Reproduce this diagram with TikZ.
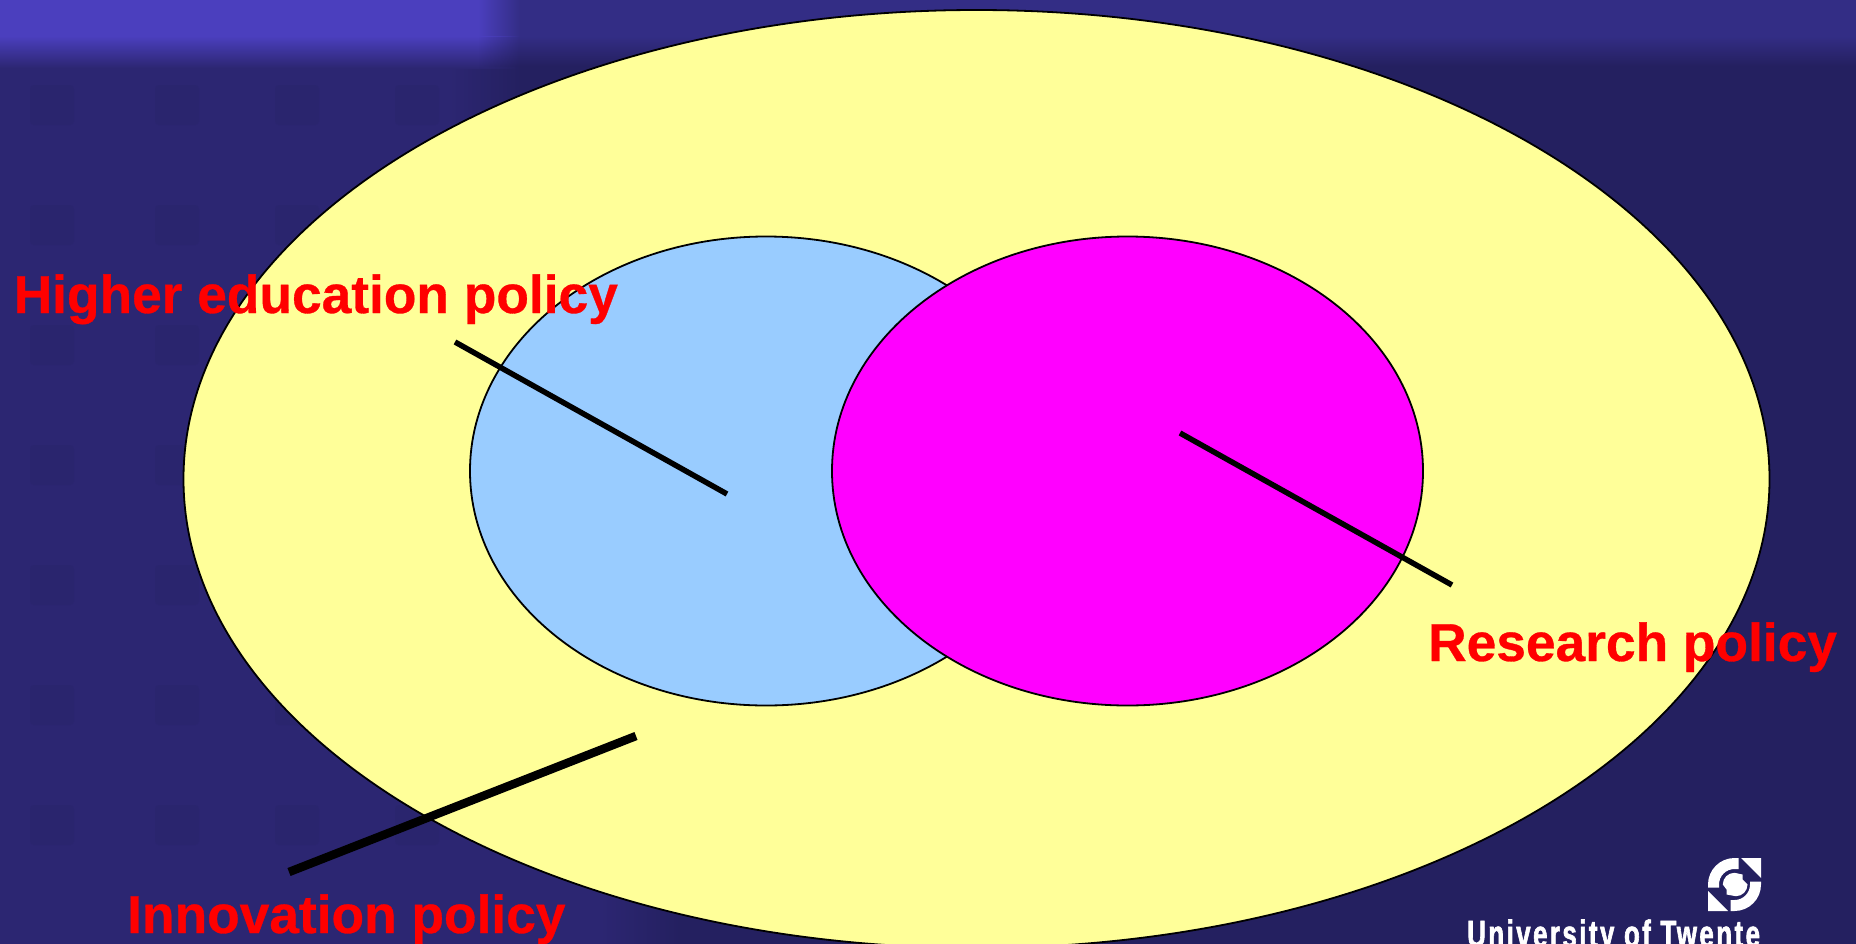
\documentclass[tikz,border=0pt]{standalone}
\usepackage{fontspec}
\usetikzlibrary{shapes.geometric,fadings}
\setmainfont{Liberation Sans}[BoldFeatures={FakeBold=0.6}]
\newfontfamily\logofont[FakeStretch=0.68,LetterSpace=6.5,FakeBold=1.6]{Liberation Sans Bold}
\definecolor{bgleft}{HTML}{2C2672}
\definecolor{bgright}{HTML}{242060}
\definecolor{bandleft}{HTML}{4B3FBE}
\definecolor{bandright}{HTML}{332D85}
\definecolor{bgsquare}{HTML}{2A256E}
\definecolor{outerfill}{HTML}{FFFF99}
\definecolor{bluefill}{HTML}{99CCFF}
\definecolor{magfill}{HTML}{FF00FF}
\tikzset{
  blob/.style={ellipse,draw=black,line width=1.8pt,inner sep=0pt},
  policy/.style={anchor=base west,inner sep=0pt,text=red,font=\fontsize{53.3}{53.3}\selectfont\bfseries},
  pointer/.style={draw=black,line width=5.5pt},
  pointerthick/.style={draw=black,line width=8.5pt},
  logopart/.style={fill=white,draw=none}
}
\begin{document}
\begin{tikzpicture}[x=1pt,y=-1pt]
\useasboundingbox (0,0) rectangle (1856,943);
% background
\fill[bgright] (-5,-5) rectangle (1861,950);
\fill[bgleft] (-5,-5) rectangle (450,400);
\shade[left color=bgleft,right color=bgright,draw=none] (450,-5) rectangle (520,400);
\fill[bgleft] (-5,400) rectangle (600,950);
\shade[left color=bgleft,right color=bgright,draw=none] (600,400) rectangle (680,950);
% faint squares
\foreach \sx in {30,155,275,395}{
  \foreach \sy in {85,205,325,445,565,685,805}{
    \fill[bgsquare,rounded corners=4pt] (\sx,\sy) rectangle +(44,40);
  }
}
% top band
\fill[bandright] (478,-5) rectangle (1861,36);
\shade[top color=bandright,bottom color=bgright,draw=none] (478,36) rectangle (1861,66);
\fill[bandleft] (-5,-5) rectangle (478,36);
\shade[top color=bandleft,bottom color=bgleft,draw=none] (-5,36) rectangle (478,68);
\shade[left color=bandleft,right color=bandright,draw=none] (478,-5) rectangle (520,36);
\shade[top color=bandleft,bottom color=bgleft,draw=none,path fading=east] (478,36) rectangle (520,68);
% ellipses
\node[blob,fill=outerfill,minimum width=1586pt,minimum height=938pt] (outer) at (976.5,479) {};
\node[blob,fill=bluefill,minimum width=592pt,minimum height=469pt] (edu) at (766,471) {};
\node[blob,fill=magfill,minimum width=591pt,minimum height=469pt] (res) at (1127.5,471) {};
% pointers
\coordinate (eduA) at (455,342);
\coordinate (eduB) at (727,494);
\coordinate (resA) at (1180,433);
\coordinate (resB) at (1452,585);
\coordinate (innA) at (636,736);
\coordinate (innB) at (289,872);
\draw[pointer] (eduA) -- (eduB);
\draw[pointer] (resA) -- (resB);
\draw[pointerthick] (innA) -- (innB);
% labels
\node[policy] (lab1) at (13.5,313) {Higher education policy};
\node[policy] (lab2) at (1428,661) {Research policy};
\node[policy] (lab3) at (127,933) {Innovation policy};
% logo
\begin{scope}[shift={(1734.5,884.5)},y=1pt]
  \fill[logopart] (-26.5,-3) -- (-26.5,0) arc[start angle=180,end angle=90,radius=26.5] -- (4,26.5) -- (4,15.5) -- (0,15.5) arc[start angle=90,end angle=180,radius=15.5] -- (-15.5,-3) -- cycle;
  \fill[logopart] (26.5,3) -- (26.5,0) arc[start angle=0,end angle=-90,radius=26.5] -- (-4,-26.5) -- (-4,-15.5) -- (0,-15.5) arc[start angle=-90,end angle=0,radius=15.5] -- (15.5,3) -- cycle;
  \fill[logopart] (6.5,26.5) -- (26.5,26.5) -- (26.5,6.5) -- cycle;
  \fill[logopart] (-6.5,-26.5) -- (-26.5,-26.5) -- (-26.5,-6.5) -- cycle;
  \fill[logopart] (-11.7,0) arc[start angle=180,end angle=90,radius=11.7] -- (8,10) -- (8,5) -- (13,0) arc[start angle=0,end angle=-90,radius=11.7] -- (-8,-10) -- (-8,-5) -- cycle;
\end{scope}
\node[anchor=base west,inner sep=0pt,text=white,font=\logofont\fontsize{38}{38}\selectfont] (logotext) at (1467,947) {University of Twente};
\end{tikzpicture}
\end{document}
